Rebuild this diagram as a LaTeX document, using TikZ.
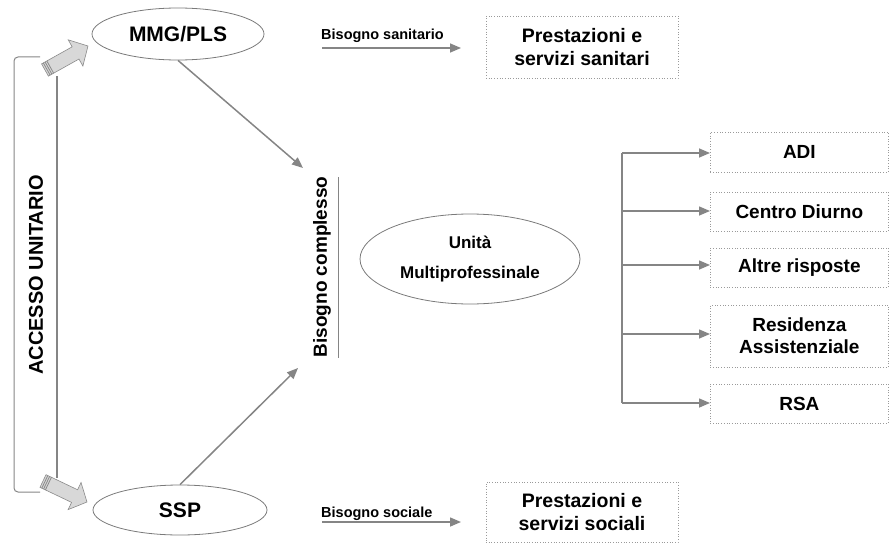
\documentclass[tikz,border=0pt]{standalone}
\usepackage{fontspec}
\setmainfont{Liberation Sans}
\usetikzlibrary{arrows.meta,calc,shapes.geometric}
\definecolor{linegray}{HTML}{858585}
\definecolor{ovalgray}{HTML}{7A7A7A}
\definecolor{boxgray}{HTML}{9A9A9A}
\definecolor{arrowfill}{HTML}{D8D8D8}
\definecolor{arrowedge}{HTML}{8A8A8A}
\newcommand\blkarrow[2]{%
  \coordinate (#1s) at ($(#1)!35pt!(#2)$);
  \fill[arrowfill, draw=arrowedge, line width=0.6pt, line join=miter]
    ($(#1)!7pt!90:(#2)$) -- ($(#1s)!7pt!90:(#2)$) -- ($(#1s)!15pt!90:(#2)$) -- (#2)
    -- ($(#1s)!15pt!-90:(#2)$) -- ($(#1s)!7pt!-90:(#2)$) -- ($(#1)!7pt!-90:(#2)$) -- cycle;
  \coordinate (#1a) at ($(#1)!2pt!(#2)$);
  \coordinate (#1b) at ($(#1)!4pt!(#2)$);
  \coordinate (#1c) at ($(#1)!6pt!(#2)$);
  \draw[arrowedge, line width=0.8pt] ($(#1a)!7pt!90:(#2)$) -- ($(#1a)!7pt!-90:(#2)$);
  \draw[arrowedge, line width=0.8pt] ($(#1b)!7pt!90:(#2)$) -- ($(#1b)!7pt!-90:(#2)$);
  \draw[arrowedge, line width=0.8pt] ($(#1c)!7pt!90:(#2)$) -- ($(#1c)!7pt!-90:(#2)$);
}
\begin{document}
\begin{tikzpicture}[x=1pt,y=-1pt,
  line/.style={draw=linegray, line width=1.5pt},
  arr/.style={line, -{Triangle[length=11pt,width=9pt]}},
  oval/.style={ellipse, draw=ovalgray, line width=0.8pt, inner sep=0pt, align=center},
  dbox/.style={draw=boxgray, dotted, line width=0.7pt, inner sep=0pt, align=center,
    font=\fontsize{19}{22}\selectfont\bfseries},
  lbl/.style={font=\fontsize{14.5}{17}\selectfont\bfseries, inner sep=0pt}]
\useasboundingbox (0,0) rectangle (891,543);

% left access frame
\draw[draw=linegray, line width=1pt, rounded corners=4pt] (40,57) -- (14,57) -- (14,492) -- (40,492);
\draw[line] (57,76) -- (57,478);
\node[rotate=90, font=\fontsize{20}{23}\selectfont\bfseries] (acc) at (36,275) {ACCESSO UNITARIO};

\coordinate (t1) at (45,70);
\coordinate (p1) at (88,46);
\coordinate (t2) at (43,481);
\coordinate (p2) at (87,502);
\blkarrow{t1}{p1}
\blkarrow{t2}{p2}

% ellipses
\node[oval, minimum width=172pt, minimum height=52pt, font=\fontsize{21}{24}\selectfont\bfseries] (mmg) at (178,34) {MMG/PLS};
\node[oval, minimum width=174pt, minimum height=50pt, font=\fontsize{21}{24}\selectfont\bfseries] (ssp) at (180,510) {SSP};
\node[oval, minimum width=220pt, minimum height=90pt, font=\fontsize{17}{30}\selectfont\bfseries] (um) at (470,259) {Unità\\Multiprofessinale};

% need arrows
\node[lbl, anchor=base west] (bsan) at (321,40) {Bisogno sanitario};
\coordinate (bsanA) at (322,48);
\coordinate (bsanB) at (461,48);
\draw[arr] (bsanA) -- (bsanB);
\node[lbl, anchor=base west] (bsoc) at (321,517) {Bisogno sociale};
\coordinate (bsocA) at (322,522);
\coordinate (bsocB) at (461,522);
\draw[arr] (bsocA) -- (bsocB);

\node[dbox, minimum width=192pt, minimum height=62pt, font=\fontsize{19.5}{23}\selectfont\bfseries] (psan) at (582,47) {Prestazioni e\\servizi sanitari};
\node[dbox, minimum width=192pt, minimum height=60pt, font=\fontsize{19.5}{23}\selectfont\bfseries] (psoc) at (582,512) {Prestazioni e\\servizi sociali};

% complex need
\node[rotate=90, font=\fontsize{19}{22}\selectfont\bfseries] (bc) at (322,267) {Bisogno complesso};
\coordinate (bcT) at (338,177);
\coordinate (bcB) at (338,358);
\draw[draw=linegray, line width=1pt] (bcT) -- (bcB);
\coordinate (inTop) at (303,168);
\coordinate (inBot) at (298,368);
\draw[arr] (mmg.south) -- (inTop);
\draw[arr] (ssp.north) -- (inBot);

% right tree
\node[dbox, minimum width=178pt, minimum height=40pt, anchor=west] (adi) at (710,152) {ADI};
\node[dbox, minimum width=178pt, minimum height=39pt, anchor=west] (cd) at (710,211.5) {Centro Diurno};
\node[dbox, minimum width=178pt, minimum height=39pt, anchor=west] (ar) at (710,267.5) {Altre risposte};
\node[dbox, minimum width=178pt, minimum height=62pt, anchor=west] (ra) at (710,336) {Residenza\\Assistenziale};
\node[dbox, minimum width=178pt, minimum height=39pt, anchor=west] (rsa) at (710,403.5) {RSA};

\coordinate (trT) at (622,153);
\coordinate (trB) at (622,403);
\draw[line] (trT) -- (trB);
\coordinate (b1) at (622,153);
\coordinate (b2) at (622,211);
\coordinate (b3) at (622,265);
\coordinate (b4) at (622,334);
\coordinate (b5) at (622,403);
\draw[arr] (b1) -- (b1 -| adi.west);
\draw[arr] (b2) -- (b2 -| cd.west);
\draw[arr] (b3) -- (b3 -| ar.west);
\draw[arr] (b4) -- (b4 -| ra.west);
\draw[arr] (b5) -- (b5 -| rsa.west);
\end{tikzpicture}
\end{document}
